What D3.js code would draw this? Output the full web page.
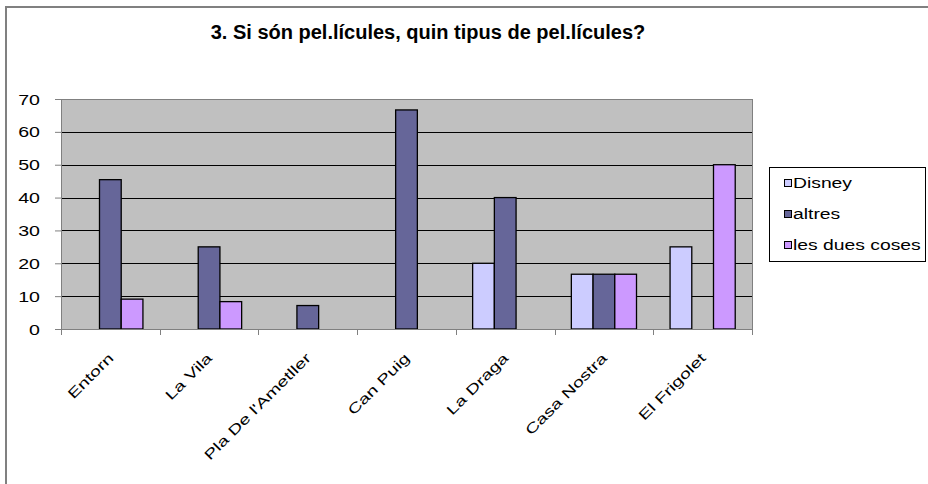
<!DOCTYPE html>
<html lang="ca">
<head>
<meta charset="utf-8">
<script src="https://d3js.org/d3.v7.min.js"></script>
<style type="text/css">
body { margin: 0; background: #fff; }
svg text { font-family: "Liberation Sans", Arial, sans-serif; fill: #000; }
.title { font-size: 20px; font-weight: bold; }
.tick-label { font-size: 14px; }
.legend-label { font-size: 14px; }
</style>
</head>
<body>
<div id="chart"></div>
<script type="text/javascript">

// chart data
var title = "3. Si són pel.lícules, quin tipus de pel.lícules?";
var categories = ["Entorn", "La Vila", "Pla De l'Ametller", "Can Puig", "La Draga", "Casa Nostra", "El Frigolet"];
var seriesNames = ["Disney", "altres", "les dues coses"];
var disney = [0, 0, 0, 0, 20, 16.67, 25];
var altres = [45.45, 25, 7.14, 66.67, 40, 16.67, 0];
var duesCoses = [9.09, 8.33, 0, 0, 0, 16.67, 50];
var yTicks = [0, 10, 20, 30, 40, 50, 60, 70];

var colors = ["#ccccff", "#666699", "#cc99ff"];
var seriesValues = [disney, altres, duesCoses];

var width = 928, height = 484;
var plot = {left: 61, right: 752, top: 99, bottom: 329};
var textStretch = 1.4; // the original text is drawn wide

var svg = d3.select("#chart")
  .append("svg")
  .attr("width", width)
  .attr("height", height);

// outer frame (runs off the right and bottom edges)
svg.append("rect")
  .attr("x", 6)
  .attr("y", 7)
  .attr("width", 960)
  .attr("height", 520)
  .style("fill", "none")
  .style("stroke", "#808080")
  .style("stroke-width", 2);

svg.append("text")
  .attr("class", "title")
  .attr("x", 428)
  .attr("y", 39)
  .attr("text-anchor", "middle")
  .text(title);

var x = d3.scaleBand()
  .domain(categories)
  .range([plot.left, plot.right])
  .paddingInner(0.34)
  .paddingOuter(0.17);

var xSeries = d3.scaleBand()
  .domain(seriesNames)
  .range([0, x.bandwidth()]);

var y = d3.scaleLinear()
  .domain([0, 70])
  .range([plot.bottom, plot.top]);

// plot area
svg.append("rect")
  .attr("x", plot.left)
  .attr("y", plot.top)
  .attr("width", plot.right - plot.left)
  .attr("height", plot.bottom - plot.top)
  .style("fill", "#c0c0c0")
  .style("stroke", "#808080")
  .style("stroke-width", 1)
  .style("shape-rendering", "crispEdges");

// gridlines
svg.append("g")
  .selectAll("line")
  .data(yTicks.filter(function(d) { return d > 0 && d < 70; }))
  .enter()
  .append("line")
  .attr("x1", plot.left)
  .attr("x2", plot.right)
  .attr("y1", function(d) { return Math.round(y(d)) + 0.5; })
  .attr("y2", function(d) { return Math.round(y(d)) + 0.5; })
  .style("stroke", "#000")
  .style("stroke-width", 1);

// bars
var rows = [];
categories.forEach(function(c, i) {
  seriesNames.forEach(function(s, j) {
    if (seriesValues[j][i] > 0) {
      rows.push({cat: c, series: s, value: seriesValues[j][i], color: colors[j]});
    }
  });
});

svg.append("g")
  .selectAll("rect")
  .data(rows)
  .enter()
  .append("rect")
  .attr("x", function(d) { return x(d.cat) + xSeries(d.series); })
  .attr("y", function(d) { return y(d.value); })
  .attr("width", xSeries.bandwidth())
  .attr("height", function(d) { return y(0) - y(d.value); })
  .style("fill", function(d) { return d.color; })
  .style("stroke", "#000")
  .style("stroke-width", 1.3);

// y axis
var yAxis = d3.axisLeft(y)
  .tickValues(yTicks)
  .tickSize(6)
  .tickPadding(15);

var gy = svg.append("g")
  .attr("transform", "translate(" + plot.left + ",0)")
  .call(yAxis);
gy.select(".domain").style("stroke", "#808080");
gy.selectAll(".tick line").style("stroke", "#808080");
gy.selectAll(".tick text")
  .attr("class", "tick-label")
  .attr("font-family", null)
  .attr("font-size", null)
  .attr("x", null)
  .attr("dy", "0.36em")
  .attr("transform", "translate(-21,0) scale(" + textStretch + ",1)");

// x axis: ticks at the category boundaries
var boundaries = categories.map(function(c) { return x(c) - x.step() * x.paddingInner() / 2; });
boundaries.push(plot.right);

svg.append("line")
  .attr("x1", plot.left)
  .attr("x2", plot.right)
  .attr("y1", plot.bottom + 0.5)
  .attr("y2", plot.bottom + 0.5)
  .style("stroke", "#808080");

svg.append("g")
  .selectAll("line")
  .data(boundaries)
  .enter()
  .append("line")
  .attr("x1", function(d) { return Math.round(d) + 0.5; })
  .attr("x2", function(d) { return Math.round(d) + 0.5; })
  .attr("y1", plot.bottom)
  .attr("y2", plot.bottom + 6)
  .style("stroke", "#808080");

svg.append("g")
  .selectAll("text")
  .data(categories)
  .enter()
  .append("text")
  .attr("class", "tick-label")
  .attr("text-anchor", "end")
  .attr("transform", function(d) {
    return "translate(" + (x(d) + x.bandwidth() / 2 + 4) + ",359) rotate(-45) scale(" + textStretch + ",1)";
  })
  .text(function(d) { return d; });

// legend
var legend = svg.append("g");
legend.append("rect")
  .attr("x", 769.5)
  .attr("y", 167.5)
  .attr("width", 156)
  .attr("height", 94)
  .style("fill", "#fff")
  .style("stroke", "#000")
  .style("stroke-width", 1);

var item = legend.selectAll(".item")
  .data(seriesNames)
  .enter()
  .append("g")
  .attr("transform", function(d, i) { return "translate(784," + (183 + i * 31) + ")"; });

item.append("rect")
  .attr("x", 0.5)
  .attr("y", -3.5)
  .attr("width", 7)
  .attr("height", 7)
  .style("fill", function(d, i) { return colors[i]; })
  .style("stroke", "#000")
  .style("stroke-width", 1);

item.append("text")
  .attr("class", "legend-label")
  .attr("x", 0)
  .attr("dy", "0.36em")
  .attr("transform", "translate(9,0) scale(1.38,1)")
  .text(function(d) { return d; });

</script>
</body>
</html>
